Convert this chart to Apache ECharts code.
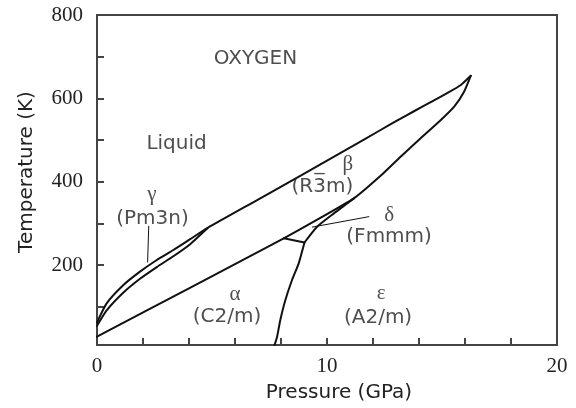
<!DOCTYPE html>
<html>
<head>
<meta charset="utf-8">
<script src="https://cdn.jsdelivr.net/npm/echarts@6/dist/echarts.min.js"></script>
<style>
  html, body { margin: 0; padding: 0; background: #fff; }
  #chart { width: 576px; height: 408px; }
</style>
</head>
<body>
<div id="chart"></div>
<script>
// Phase boundaries of oxygen: pressure (GPa) and temperature (K)
const meltP = [0, 0.42, 1.15, 1.87, 2.6, 3.32, 4.05, 4.78, 7.1, 10.88, 12.33, 13.06, 13.78, 14.51, 15.24, 15.82, 16.25];
const meltT = [62, 108, 152, 184, 212, 236, 262, 288, 360, 478, 524, 547, 569, 591, 613, 632, 654];

const gammaP = [0, 0.42, 1.15, 1.87, 2.6, 3.32, 4.05, 4.8];
const gammaT = [54, 91, 134, 167, 195, 221, 250, 288];

const alphaBetaP = [0, 4, 8.12, 11.17, 12.33, 13.2, 14.07, 14.95, 15.53, 15.96, 16.25];
const alphaBetaT = [28, 144, 264, 360, 414, 460, 504, 548, 580, 616, 654];

const alphaDeltaP = [8.12, 9.02];
const alphaDeltaT = [264, 254];

const alphaEpsP = [7.72, 7.83, 7.97, 8.19, 8.48, 8.77, 9.02];
const alphaEpsT = [8, 28, 68, 116, 164, 204, 254];

const deltaEpsP = [9.02, 9.57, 10.3, 11.17];
const deltaEpsT = [254, 292, 324, 360];

// leader lines from the structure labels into the narrow fields
const gammaLeadP = [2.25, 2.2];
const gammaLeadT = [293, 207];
const deltaLeadP = [9.36, 11.82];
const deltaLeadT = [291, 316];

// field labels
const nameLabels = ['OXYGEN', 'Liquid', '(Pm3n)', '(R3\u0305m)', '(Fmmm)', '(C2/m)', '(A2/m)'];
const nameP = [6.89, 3.46, 2.41, 9.80, 12.70, 5.65, 12.22];
const nameT = [695, 491, 310, 388, 268, 75, 73];

const greekLabels = ['\u03b3', '\u03b2', '\u03b4', '\u03b1', '\u03b5'];
const greekP = [2.39, 10.91, 12.70, 6.0, 12.35];
const greekT = [369, 441, 319, 130, 132];

// axis ticks and labels
const pressureLabels = [0, 10, 20];
const tempTicks = [100, 200, 300, 400, 500, 600, 700, 800];
const tempLabels = [200, 400, 600, 800];

const zip = (xs, ys) => xs.map((x, i) => [x, ys[i]]);

const INK = '#111';
const AXIS = '#444';
const SANS = '"DejaVu Sans", sans-serif';
const SERIF = '"Liberation Serif", serif';

function boundary(name, xs, ys, width, smooth) {
  return {
    name: name,
    type: 'line',
    data: zip(xs, ys),
    showSymbol: false,
    symbol: 'none',
    smooth: smooth || false,
    lineStyle: { color: INK, width: width, join: 'round', cap: 'round' },
    silent: true,
    z: 3
  };
}

function textSeries(labels, xs, ys, font, size) {
  return {
    type: 'scatter',
    symbolSize: 0,
    data: labels.map((t, i) => ({ value: [xs[i], ys[i]], name: t })),
    label: {
      show: true,
      position: 'inside',
      formatter: p => p.name,
      color: '#222',
      fontFamily: font,
      fontSize: size
    },
    silent: true,
    z: 5
  };
}

const chart = echarts.init(document.getElementById('chart'), null, { renderer: 'canvas' });

chart.setOption({
  animation: false,
  backgroundColor: '#fff',
  grid: {
    left: 97, right: 19, top: 15, bottom: 62,
    show: true, borderColor: AXIS, borderWidth: 2, backgroundColor: 'transparent'
  },
  xAxis: {
    type: 'value',
    min: 0, max: 20, interval: 2,
    name: 'Pressure (GPa)',
    nameLocation: 'middle',
    nameGap: 38,
    nameTextStyle: { fontFamily: SANS, fontSize: 20, color: '#222', padding: [0, 0, 0, 24] },
    axisLine: { show: true, lineStyle: { color: AXIS, width: 2 } },
    axisTick: { show: true, inside: true, length: 7, lineStyle: { color: AXIS, width: 2 } },
    axisLabel: { customValues: pressureLabels, margin: 11, fontFamily: SERIF, fontSize: 21, color: '#222' },
    splitLine: { show: false }
  },
  yAxis: {
    type: 'value',
    min: 8, max: 800,
    name: 'Temperature (K)',
    nameLocation: 'middle',
    nameGap: 60,
    nameTextStyle: { fontFamily: SANS, fontSize: 20, color: '#222', padding: [0, 0, 0, 16] },
    axisLine: { show: true, lineStyle: { color: AXIS, width: 2 } },
    axisTick: { show: true, inside: true, length: 7, customValues: tempTicks, lineStyle: { color: AXIS, width: 2 } },
    axisLabel: { customValues: tempLabels, margin: 14, fontFamily: SERIF, fontSize: 21, color: '#222' },
    splitLine: { show: false }
  },
  series: [
    boundary('melting', meltP, meltT, 2, 0.2),
    boundary('gamma', gammaP, gammaT, 2, 0.2),
    boundary('alpha-beta', alphaBetaP, alphaBetaT, 2, 0.15),
    boundary('alpha-delta', alphaDeltaP, alphaDeltaT, 2),
    boundary('alpha-epsilon', alphaEpsP, alphaEpsT, 2, 0.2),
    boundary('delta-epsilon', deltaEpsP, deltaEpsT, 2, 0.2),
    boundary('gamma-lead', gammaLeadP, gammaLeadT, 1),
    boundary('delta-lead', deltaLeadP, deltaLeadT, 1),
    textSeries(nameLabels, nameP, nameT, SANS, 20),
    textSeries(greekLabels, greekP, greekT, SERIF, 21)
  ]
});
</script>
</body>
</html>
